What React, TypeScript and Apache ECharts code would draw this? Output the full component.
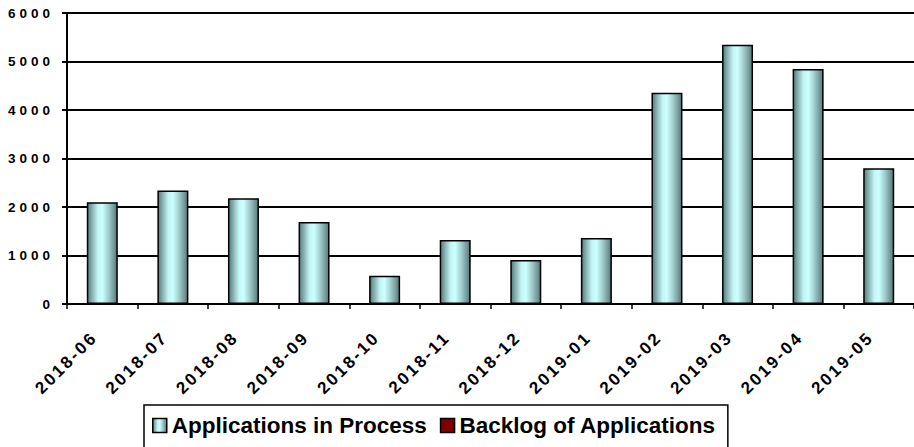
import React, { useEffect, useRef } from "react";
import * as echarts from "echarts";

const categories = [
  "2018-06", "2018-07", "2018-08", "2018-09", "2018-10", "2018-11",
  "2018-12", "2019-01", "2019-02", "2019-03", "2019-04", "2019-05",
];
const applicationsInProcess = [2100, 2340, 2180, 1690, 585, 1320, 905, 1360, 4355, 5345, 4845, 2800];
const backlogOfApplications: (number | null)[] = [null, null, null, null, null, null, null, null, null, null, null, null];
const yTicks = { min: 0, max: 6000, interval: 1000 };
const seriesNames = ["Applications in Process", "Backlog of Applications"];

const FONT = '"Liberation Sans", Arial, sans-serif';

export default function App() {
  const ref = useRef<HTMLDivElement>(null);
  useEffect(() => {
    if (!ref.current) return;
    const chart = echarts.init(ref.current, null, { renderer: "svg" });
    const barGradient = new echarts.graphic.LinearGradient(0, 0, 1, 0, [
      { offset: 0, color: "#557a7a" },
      { offset: 0.15, color: "#86b0b0" },
      { offset: 0.35, color: "#c4f5f5" },
      { offset: 0.5, color: "#ccffff" },
      { offset: 0.7, color: "#a2cfcf" },
      { offset: 0.88, color: "#779c9c" },
      { offset: 1, color: "#557777" },
    ]);
    chart.setOption({
      animation: false,
      backgroundColor: "#ffffff",
      grid: { left: 67, top: 13, right: -9, bottom: 143, containLabel: false },
      legend: {
        left: 144,
        top: 405,
        padding: [9, 12, 16, 8],
        itemGap: 13,
        itemWidth: 14,
        itemHeight: 14,
        borderColor: "#000",
        borderWidth: 1.5,
        textStyle: { fontSize: 22.5, fontWeight: "bold", color: "#000", fontFamily: FONT },
        data: [
          { name: seriesNames[0], icon: "rect", itemStyle: { borderColor: "#000", borderWidth: 1.5 } },
          { name: seriesNames[1], icon: "rect", itemStyle: { color: "#800000", borderColor: "#000", borderWidth: 1.5 } },
        ],
      },
      xAxis: {
        type: "category",
        data: categories,
        boundaryGap: true,
        axisLine: { show: true, lineStyle: { color: "#000", width: 2 } },
        axisTick: { show: true, length: 5, lineStyle: { color: "#000", width: 1.5 } },
        axisLabel: {
          rotate: 45,
          interval: 0,
          margin: 23,
          padding: [0, 11, 0, 0],
          fontSize: 17,
          fontWeight: "bold",
          color: "#000",
          fontFamily: FONT,
        },
      },
      yAxis: {
        type: "value",
        min: yTicks.min,
        max: yTicks.max,
        interval: yTicks.interval,
        axisLine: { show: true, lineStyle: { color: "#000", width: 2 } },
        axisTick: { show: true, length: 5, lineStyle: { color: "#000", width: 2 } },
        splitLine: { show: true, lineStyle: { color: "#000", width: 2 } },
        axisLabel: {
          margin: 13,
          fontSize: 13.5,
          fontWeight: "bold",
          color: "#000",
          fontFamily: FONT,
          formatter: (v: number) => String(v),
        },
      },
      series: [
        {
          name: seriesNames[0],
          type: "bar",
          data: applicationsInProcess,
          barWidth: 31,
          barGap: "-100%",
          itemStyle: { color: barGradient, borderColor: "#000", borderWidth: 1.5 },
        },
        {
          name: seriesNames[1],
          type: "bar",
          data: backlogOfApplications,
          barWidth: 31,
          itemStyle: { color: "#800000", borderColor: "#000", borderWidth: 1.5 },
        },
      ],
    });
    return () => chart.dispose();
  }, []);
  return (
    <>
      <style>{`
        #chart-box text[style*="13.5px"] { letter-spacing: 4px; }
        #chart-box text[style*="17px"] { letter-spacing: 2.5px; }
      `}</style>
      <div
        id="chart-box"
        ref={ref}
        style={{ position: "absolute", left: 0, top: 0, width: 914, height: 447, background: "#fff" }}
      />
    </>
  );
}
